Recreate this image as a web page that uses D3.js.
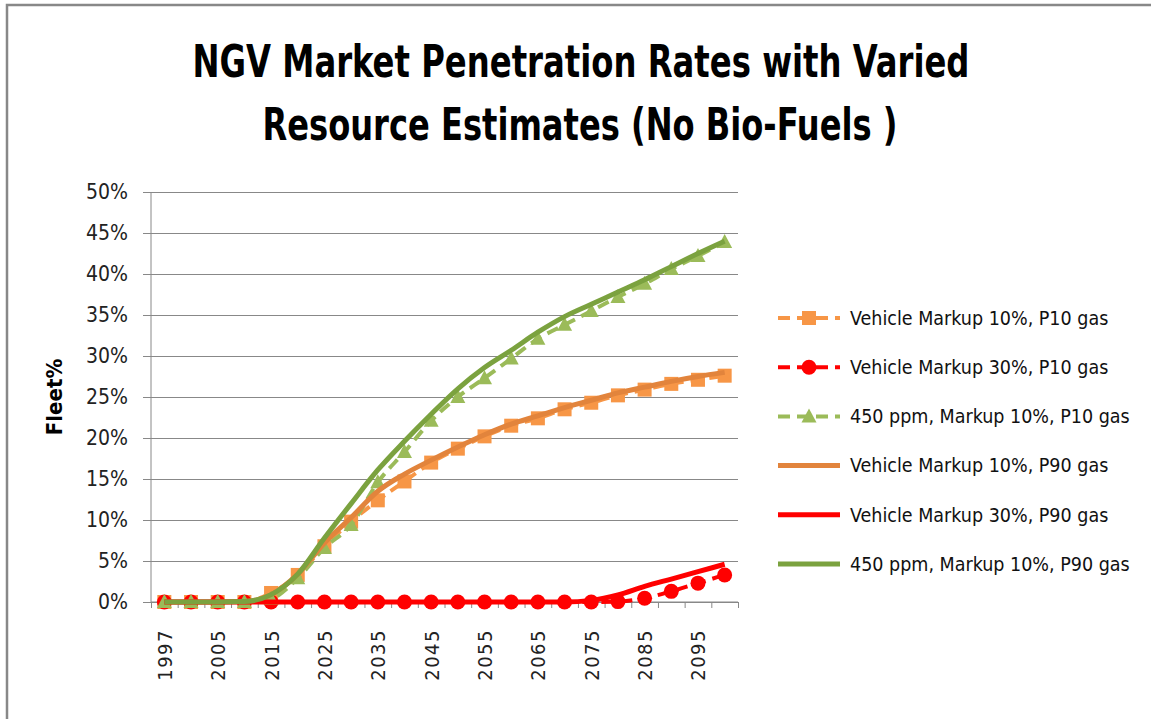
<!DOCTYPE html>
<html>
<head>
<meta charset="utf-8">
<script src="https://cdn.jsdelivr.net/npm/d3@7"></script>
<style>
  html, body { margin: 0; background: #fff; overflow: hidden; }
  svg { display: block; }
  svg text { font-family: "Liberation Sans Narrow", "DejaVu Sans Condensed", "Liberation Sans", sans-serif; }
</style>
</head>
<body>
<div id="container"></div>
<script>
const years = [1997, 2000, 2005, 2010, 2015, 2020, 2025, 2030, 2035, 2040, 2045,
    2050, 2055, 2060, 2065, 2070, 2075, 2080, 2085, 2090, 2095, 2100];

const markup10P10 = [0, 0, 0, 0, 1.1, 3.3, 6.8, 9.8, 12.4, 14.7, 17.0,
    18.7, 20.2, 21.5, 22.4, 23.5, 24.3, 25.2, 25.9, 26.6, 27.1, 27.6];
const markup30P10 = [0, 0, 0, 0, 0, 0, 0, 0, 0, 0, 0,
    0, 0, 0, 0, 0, 0, 0.05, 0.45, 1.3, 2.3, 3.3];
const ppm450P10 = [0, 0, 0, 0, 0.4, 2.9, 6.6, 9.4, 14.6, 18.3, 22.1,
    25.0, 27.3, 29.7, 32.1, 33.8, 35.5, 37.2, 38.8, 40.6, 42.2, 43.9];
const markup10P90 = [0, 0, 0, 0.05, 0.9, 3.4, 7.2, 10.3, 13.5, 15.6, 17.3,
    18.9, 20.4, 21.7, 22.7, 23.7, 24.6, 25.5, 26.2, 26.9, 27.5, 28.0];
const markup30P90 = [0, 0, 0, 0, 0, 0, 0, 0, 0, 0, 0,
    0, 0, 0, 0, 0, 0.2, 0.85, 1.9, 2.8, 3.7, 4.6];
const ppm450P90 = [0, 0, 0, 0.05, 0.9, 3.4, 7.8, 12.0, 16.1, 19.6, 22.9,
    26.0, 28.6, 30.7, 32.9, 34.8, 36.3, 37.8, 39.3, 40.9, 42.5, 44.0];

const yTicks = [0, 5, 10, 15, 20, 25, 30, 35, 40, 45, 50];

const series = [
    { name: 'Vehicle Markup 10%, P10 gas', values: markup10P10, color: '#F79646', dash: '12 7', marker: 'square' },
    { name: 'Vehicle Markup 30%, P10 gas', values: markup30P10, color: '#FF0000', dash: '12 7', marker: 'circle' },
    { name: '450 ppm, Markup 10%, P10 gas', values: ppm450P10, color: '#9BBB59', dash: '12 7', marker: 'triangle' },
    { name: 'Vehicle Markup 10%, P90 gas', values: markup10P90, color: '#E2843C', dash: null, marker: null },
    { name: 'Vehicle Markup 30%, P90 gas', values: markup30P90, color: '#FF0000', dash: null, marker: null },
    { name: '450 ppm, Markup 10%, P90 gas', values: ppm450P90, color: '#7BA23F', dash: null, marker: null },
];

const width = 1151;
const height = 719;
const plot = { left: 151, right: 738, top: 192, bottom: 602 };

const svg = d3.select('#container').append('svg')
    .attr('width', width)
    .attr('height', height);

// outer chart border: only top and left edges are in view
svg.append('path')
    .attr('d', `M7,${height}V5H${width}`)
    .style('fill', 'none')
    .style('stroke', '#888')
    .style('stroke-width', 2.5);

// title
const title = svg.append('text')
    .attr('text-anchor', 'middle')
    .style('font-weight', 'bold')
    .style('font-size', '44px')
    .style('fill', 'black');
title.append('tspan').attr('x', 581).attr('y', 77).attr('textLength', 777)
    .attr('lengthAdjust', 'spacingAndGlyphs')
    .text('NGV Market Penetration Rates with Varied');
title.append('tspan').attr('x', 580).attr('y', 140).attr('textLength', 635)
    .attr('lengthAdjust', 'spacingAndGlyphs')
    .text('Resource Estimates  (No Bio-Fuels )');

const x = d3.scaleLinear().domain([-0.5, years.length - 0.5]).range([plot.left, plot.right]);
const y = d3.scaleLinear().domain([0, 50]).range([plot.bottom, plot.top]);

// gridlines + y axis
const yAxis = d3.axisLeft(y)
    .tickValues(yTicks)
    .tickSize(-(plot.right - plot.left))
    .tickFormat((d) => d + '%');

const yg = svg.append('g').attr('transform', `translate(${plot.left} 0)`).call(yAxis);
yg.select('.domain').remove();
yg.selectAll('line').style('stroke', '#888').attr('x1', -8);
yg.selectAll('text').style('font-size', '21px').style('fill', '#222').attr('x', -23);

svg.append('line')
    .attr('x1', plot.left).attr('x2', plot.left)
    .attr('y1', plot.top).attr('y2', plot.bottom)
    .style('stroke', '#888');

// x axis: ticks between categories
const xTickAxis = d3.axisBottom(x)
    .tickValues(d3.range(-0.5, years.length, 1))
    .tickSize(6)
    .tickFormat('');
const xg = svg.append('g').attr('transform', `translate(0 ${plot.bottom})`).call(xTickAxis);
xg.select('.domain').attr('d', `M${plot.left},0H${plot.right}`).style('stroke', '#888');
xg.selectAll('line').style('stroke', '#888');

// x axis labels, every other category
const xLabelAxis = d3.axisBottom(x)
    .tickValues(d3.range(0, years.length, 2))
    .tickSize(0)
    .tickFormat((i) => years[i]);
const xl = svg.append('g').attr('transform', `translate(0 ${plot.bottom})`).call(xLabelAxis);
xl.select('.domain').remove();
xl.selectAll('text')
    .style('font-size', '20px')
    .style('letter-spacing', '1.5px')
    .style('fill', '#222')
    .attr('text-anchor', 'end')
    .attr('y', 0).attr('dy', '0.35em')
    .attr('transform', 'translate(0 27) rotate(-90)');

// y axis title
svg.append('text')
    .attr('transform', 'translate(62 397) rotate(-90)')
    .attr('text-anchor', 'middle')
    .style('font-weight', 'bold')
    .style('font-size', '22px')
    .text('Fleet%');

// series
const line = d3.line()
    .x((d, i) => x(i))
    .y((d) => y(d))
    .curve(d3.curveMonotoneX);

function drawMarker(g, type, color) {
    if (type === 'square') {
        g.append('rect').attr('x', -7).attr('y', -7).attr('width', 14).attr('height', 14).style('fill', color);
    } else if (type === 'circle') {
        g.append('circle').attr('r', 7.5).style('fill', color);
    } else if (type === 'triangle') {
        g.append('path').attr('d', 'M0,-8L7.5,6L-7.5,6Z').style('fill', color);
    }
}

series.forEach((s) => {
    const g = svg.append('g');
    g.append('path')
        .datum(s.values)
        .attr('d', line)
        .style('fill', 'none')
        .style('stroke', s.color)
        .style('stroke-width', s.dash ? 4 : 5)
        .style('stroke-dasharray', s.dash);
    if (s.marker) {
        g.selectAll('g.m').data(s.values).enter().append('g')
            .attr('class', 'm')
            .attr('transform', (d, i) => `translate(${x(i)} ${y(d)})`)
            .each(function () { drawMarker(d3.select(this), s.marker, s.color); });
    }
});

// legend
const legend = svg.append('g').selectAll('g').data(series).enter().append('g')
    .attr('transform', (d, i) => `translate(778 ${318 + i * 49.2})`);

legend.append('line')
    .attr('x1', 0).attr('x2', 62)
    .style('stroke', (d) => d.color)
    .style('stroke-width', (d) => d.dash ? 4 : 5)
    .style('stroke-dasharray', (d) => d.dash);

legend.each(function (d) {
    if (d.marker) {
        drawMarker(d3.select(this).append('g').attr('transform', 'translate(31 0)'), d.marker, d.color);
    }
});

legend.append('text')
    .attr('x', 72)
    .attr('dy', '0.35em')
    .style('font-size', '19.5px')
    .style('fill', '#111')
    .text((d) => d.name);
</script>
</body>
</html>
